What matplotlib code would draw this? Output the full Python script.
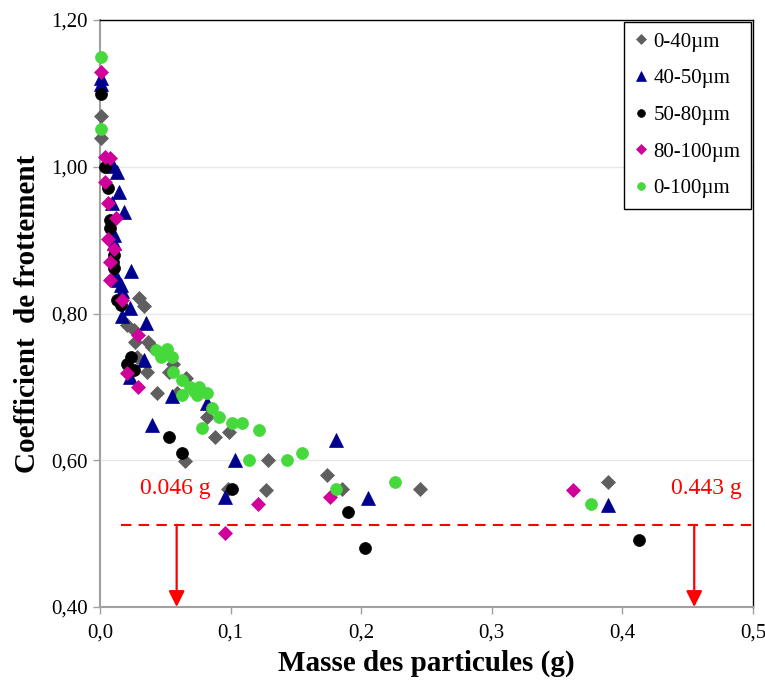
import matplotlib
matplotlib.use("Agg")
import matplotlib.pyplot as plt

# ---- data ----
x_ticks = [0.0, 0.1, 0.2, 0.3, 0.4, 0.5]
x_tick_labels = ["0,0", "0,1", "0,2", "0,3", "0,4", "0,5"]
y_ticks = [0.40, 0.60, 0.80, 1.00, 1.20]
y_tick_labels = ["0,40", "0,60", "0,80", "1,00", "1,20"]

# 0-40 um
x_0_40 = [0.001, 0.001, 0.030, 0.034, 0.021, 0.026, 0.027, 0.037, 0.040, 0.028,
          0.036, 0.053, 0.056, 0.066, 0.044, 0.059, 0.082, 0.099, 0.088, 0.065,
          0.129, 0.098, 0.127, 0.174, 0.185, 0.245, 0.389]
y_0_40 = [1.069, 1.039, 0.821, 0.810, 0.784, 0.778, 0.761, 0.761, 0.754, 0.741,
          0.720, 0.720, 0.731, 0.712, 0.692, 0.692, 0.659, 0.639, 0.632, 0.599,
          0.600, 0.561, 0.559, 0.580, 0.561, 0.561, 0.570]

# 40-50 um
x_40_50 = [0.001, 0.001, 0.013, 0.010, 0.0145, 0.009, 0.018, 0.011, 0.011, 0.024,
           0.011, 0.014, 0.016, 0.017, 0.023, 0.017, 0.035, 0.034, 0.023, 0.055,
           0.040, 0.082, 0.103, 0.096, 0.181, 0.205, 0.389]
y_40_50 = [1.121, 1.113, 0.993, 1.001, 0.966, 0.951, 0.938, 0.907, 0.896, 0.858,
           0.852, 0.846, 0.839, 0.831, 0.807, 0.797, 0.787, 0.737, 0.713, 0.688,
           0.648, 0.678, 0.600, 0.550, 0.628, 0.549, 0.539]

# 50-80 um
x_50_80 = [0.001, 0.004, 0.006, 0.008, 0.008, 0.011, 0.010, 0.011, 0.013, 0.016,
           0.024, 0.021, 0.026, 0.053, 0.063, 0.101, 0.190, 0.203, 0.413]
y_50_80 = [1.099, 1.000, 0.971, 0.927, 0.917, 0.880, 0.870, 0.862, 0.818, 0.812,
           0.741, 0.731, 0.723, 0.632, 0.610, 0.561, 0.529, 0.480, 0.491]

# 80-100 um
x_80_100 = [0.001, 0.004, 0.008, 0.004, 0.006, 0.012, 0.006, 0.011, 0.008, 0.008,
            0.017, 0.029, 0.021, 0.029, 0.096, 0.121, 0.176, 0.362]
y_80_100 = [1.129, 1.013, 1.012, 0.979, 0.951, 0.930, 0.902, 0.888, 0.870, 0.846,
            0.818, 0.771, 0.719, 0.700, 0.501, 0.540, 0.550, 0.559]

# 0-100 um
x_0_100 = [0.001, 0.001, 0.043, 0.051, 0.047, 0.055, 0.056, 0.063, 0.069, 0.076,
           0.072, 0.063, 0.074, 0.082, 0.086, 0.091, 0.078, 0.101, 0.109, 0.122,
           0.114, 0.143, 0.155, 0.181, 0.226, 0.376]
y_0_100 = [1.150, 1.051, 0.750, 0.752, 0.741, 0.741, 0.720, 0.709, 0.700, 0.700,
           0.694, 0.689, 0.689, 0.692, 0.671, 0.659, 0.644, 0.651, 0.651, 0.641,
           0.600, 0.600, 0.610, 0.561, 0.570, 0.540]

# threshold annotation
threshold = 0.512
line_start = 0.016
arrow_x = [0.0587, 0.455]
arrow_text = ["0.046 g", "0.443 g"]
text_x = [0.058, 0.464]
text_y = 0.561

SERIF = "Liberation Serif"

fig = plt.figure(figsize=(7.65, 6.84), dpi=100)
ax = fig.add_axes([100 / 765, 1 - 607 / 684, 653 / 765, 587 / 684])

series = [
    (x_0_40, y_0_40, "0-40\u00b5m", "D", "#5f5f5f", 7.4),
    (x_40_50, y_40_50, "40-50\u00b5m", "^", "#00008f", 10.0),
    (x_50_80, y_50_80, "50-80\u00b5m", "o", "black", 8.6),
    (x_80_100, y_80_100, "80-100\u00b5m", "D", "#d1009a", 7.4),
    (x_0_100, y_0_100, "0-100\u00b5m", "o", "#46d93b", 8.6),
]
for xs, ys, label, marker, color, ms in series:
    ax.plot(xs, ys, linestyle="none", marker=marker, color=color,
            markersize=ms, markeredgewidth=0.5, label=label, clip_on=False, zorder=3)

# red dashed threshold and arrows
ax.plot([line_start, 0.5], [threshold, threshold], color="red", lw=1.5,
        dashes=(5, 3.5), clip_on=False, zorder=4)
for ax_x, txt, tx in zip(arrow_x, arrow_text, text_x):
    ax.annotate("", xy=(ax_x, 0.40), xytext=(ax_x, threshold),
                arrowprops=dict(arrowstyle="-|>", color="red", lw=1.6,
                                mutation_scale=24, shrinkA=0, shrinkB=0),
                zorder=5, annotation_clip=False)
    ax.text(tx, text_y, txt, color="red", fontsize=17, family=SERIF,
            ha="center", va="center", zorder=5)

ax.set_xlim(0, 0.5)
ax.set_ylim(0.40, 1.20)
ax.set_xticks(x_ticks)
ax.set_xticklabels(x_tick_labels)
ax.set_yticks(y_ticks)
ax.set_yticklabels(y_tick_labels)
for lab in ax.get_xticklabels() + ax.get_yticklabels():
    lab.set_family(SERIF)
    lab.set_fontsize(15)

ax.tick_params(axis="both", direction="out", length=5, color="#a0a0a0", width=1)
ax.tick_params(axis="x", pad=7)
ax.tick_params(axis="y", pad=4)

ax.grid(axis="y", color="#e8e8e8", lw=1)
ax.set_axisbelow(True)

ax.spines["left"].set_color("#a0a0a0")
ax.spines["bottom"].set_color("#a0a0a0")
ax.spines["left"].set_linewidth(1.5)
ax.spines["bottom"].set_linewidth(1.5)
ax.spines["top"].set_color("black")
ax.spines["right"].set_color("black")
ax.spines["top"].set_linewidth(1.0)
ax.spines["right"].set_linewidth(1.0)

ax.set_xlabel("Masse des particules (g)", family=SERIF, fontsize=21,
              fontweight="bold", labelpad=5)
ax.set_ylabel("Coefficient  de frottement", family=SERIF, fontsize=21,
              fontweight="bold", labelpad=7)

leg = ax.legend(loc="upper right", bbox_to_anchor=(0.997, 0.997),
                prop={"family": SERIF, "size": 15}, frameon=True,
                fancybox=False, framealpha=1, edgecolor="black",
                handlelength=0.6, handletextpad=0.3, labelspacing=0.82,
                borderpad=0.5, markerscale=0.65, borderaxespad=0)
leg.get_frame().set_linewidth(1.0)

fig.savefig("out.png", dpi=100)
